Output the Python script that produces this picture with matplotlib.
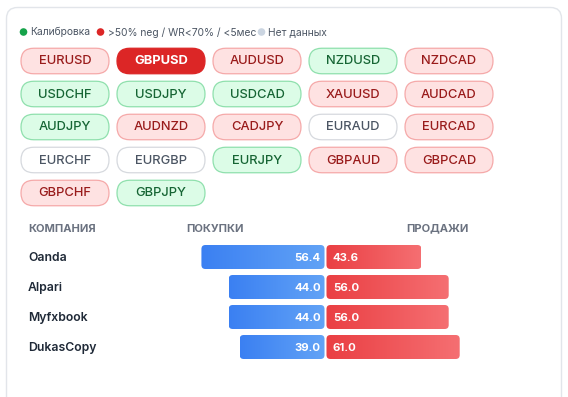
import numpy as np
import matplotlib
matplotlib.use("Agg")
import matplotlib.pyplot as plt
from matplotlib.patches import FancyBboxPatch, Circle
from matplotlib.colors import LinearSegmentedColormap
import matplotlib.transforms as mtransforms

plt.rcParams['font.family'] = ['Inter', 'DejaVu Sans']

# ---------------- data ----------------
pairs = ["EURUSD", "GBPUSD", "AUDUSD", "NZDUSD", "NZDCAD",
         "USDCHF", "USDJPY", "USDCAD", "XAUUSD", "AUDCAD",
         "AUDJPY", "AUDNZD", "CADJPY", "EURAUD", "EURCAD",
         "EURCHF", "EURGBP", "EURJPY", "GBPAUD", "GBPCAD",
         "GBPCHF", "GBPJPY"]
status = ["red", "selected", "red", "green", "red",
          "green", "green", "green", "red", "red",
          "green", "red", "red", "none", "red",
          "none", "none", "green", "red", "red",
          "red", "green"]
legend_labels = ["Калибровка", ">50% neg / WR<70% / <5мес", "Нет данных"]
companies = ["Oanda", "Alpari", "Myfxbook", "DukasCopy"]
buy = [56.4, 44.0, 44.0, 39.0]
sell = [43.6, 56.0, 56.0, 61.0]
headers = ["КОМПАНИЯ", "ПОКУПКИ", "ПРОДАЖИ"]

# ---------------- figure ----------------
W, H = 568, 397
fig = plt.figure(figsize=(W / 100, H / 100), dpi=100)
bg = fig.add_axes([0, 0, 1, 1])
bg.set_xlim(0, W)
bg.set_ylim(H, 0)
bg.axis("off")

# card
card = FancyBboxPatch((6.5, 7.5), 555, 420, boxstyle="round,pad=0,rounding_size=11",
                      facecolor="white", edgecolor="#e2e5ea", linewidth=1.0)
bg.add_patch(card)

# legend
leg_colors = ["#16a34a", "#dc2626", "#cbd5e1"]
leg_x = [23.5, 100.5, 261.5]
for lx, col, lab in zip(leg_x, leg_colors, legend_labels):
    bg.add_patch(Circle((lx, 32), 3.8, facecolor=col, edgecolor="none"))
    bg.text(lx + 7, 32.3, lab, fontsize=7.4, color="#4b5563", va="center", ha="left")

# chips
styles = {
    "red": dict(fc="#fee2e2", ec="#f5a9a9", tc="#991b1b", w="medium"),
    "green": dict(fc="#dcfce7", ec="#8fe0ad", tc="#166534", w="medium"),
    "none": dict(fc="white", ec="#d6d9de", tc="#4b5563", w="medium"),
    "selected": dict(fc="#dc2626", ec="#dc2626", tc="white", w="bold"),
}
chip_w, chip_h = 88, 25.5
for i, (name, st) in enumerate(zip(pairs, status)):
    r, c = divmod(i, 5)
    x0 = 21 + c * 96
    yc = 61 + r * 33
    s = styles[st]
    bg.add_patch(FancyBboxPatch((x0, yc - chip_h / 2), chip_w, chip_h,
                                boxstyle="round,pad=0,rounding_size=12.75",
                                facecolor=s["fc"], edgecolor=s["ec"], linewidth=0.9))
    bg.text(x0 + chip_w / 2, yc + 0.5, name, ha="center", va="center",
            fontsize=9.3, color=s["tc"], fontweight=s["w"])

# headers
hy = 228.5
hkw = dict(fontsize=8.0, color="#6b7280", fontweight="bold", va="center")
bg.text(28, hy, headers[0], ha="left", **hkw)
bg.text(186, hy, headers[1], ha="left", **hkw)
bg.text(468.5, hy, headers[2], ha="right", **hkw)

# ---------------- bars ----------------
px_per_unit = 2.2
cx = 325.5
ax_l, ax_r = 180, 480
ax_t, ax_b = 242, 362
ax = fig.add_axes([ax_l / W, 1 - ax_b / H, (ax_r - ax_l) / W, (ax_b - ax_t) / H])
xlim = (-(cx - ax_l) / px_per_unit, (ax_r - cx) / px_per_unit)
ylim = (3.5, -0.5)
ax.set_xlim(*xlim)
ax.set_ylim(*ylim)
ax.axis("off")

y = np.arange(len(companies))
gap = 0.45
bh = 0.8
bars_b = ax.barh(y, [-(b - gap) for b in buy], left=-gap, height=bh, alpha=0)
bars_s = ax.barh(y, [s - gap for s in sell], left=gap, height=bh, alpha=0)

y_per_px = 1 / 30
x_per_px = 1 / px_per_unit
m_aspect = y_per_px / x_per_px
rad_px = 4

cmap_b = LinearSegmentedColormap.from_list("b", ["#3b80f2", "#62a3f6"])
cmap_s = LinearSegmentedColormap.from_list("s", ["#ea3f43", "#f56f72"])
grad = np.linspace(0, 1, 256).reshape(1, -1)

for bars, cmap in ((bars_b, cmap_b), (bars_s, cmap_s)):
    for rect in bars:
        x0 = min(rect.get_x(), rect.get_x() + rect.get_width())
        x1 = max(rect.get_x(), rect.get_x() + rect.get_width())
        y0 = rect.get_y()
        y1 = y0 + rect.get_height()
        p = FancyBboxPatch((x0, y0), x1 - x0, y1 - y0,
                           boxstyle=f"round,pad=0,rounding_size={rad_px * x_per_px}",
                           mutation_aspect=m_aspect,
                           facecolor="none", edgecolor="none")
        ax.add_patch(p)
        im = ax.imshow(grad, cmap=cmap, extent=(x0, x1, y1, y0), aspect="auto",
                       interpolation="bilinear", zorder=2)
        im.set_clip_path(p)

ax.set_xlim(*xlim)
ax.set_ylim(*ylim)

for i, (b, s) in enumerate(zip(buy, sell)):
    ax.text(-2.2, i + 0.03, f"{b:.1f}", ha="right", va="center", color="white",
            fontsize=8.2, fontweight="bold", zorder=3)
    ax.text(3.4, i + 0.03, f"{s:.1f}", ha="left", va="center", color="white",
            fontsize=8.2, fontweight="bold", zorder=3)

trans = mtransforms.blended_transform_factory(bg.transData, ax.transData)
for i, name in enumerate(companies):
    ax.text(28, i + 0.03, name, transform=trans, ha="left", va="center",
            fontsize=8.8, fontweight="semibold", color="#1f2937", clip_on=False)

fig.savefig("out.png", dpi=100)
